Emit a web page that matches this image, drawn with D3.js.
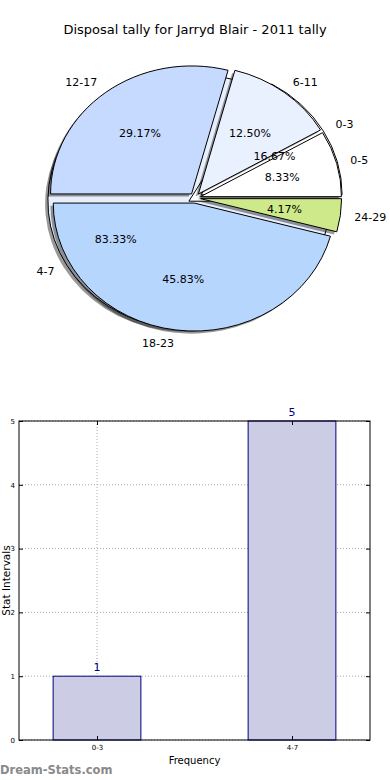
<!DOCTYPE html>
<html><head><meta charset="utf-8">
<script src="https://cdn.jsdelivr.net/npm/d3@7"></script>
<style>body{margin:0;background:#fff} text{font-family:"DejaVu Sans",sans-serif}</style>
</head><body><svg id="c" width="390" height="780"></svg>
<script>
const title = "Disposal tally for Jarryd Blair - 2011 tally";
const innerLabels = ["0-3", "4-7"];
const innerValues = [1, 5];
const innerColors = ["#ffffff", "#e8effc"];
const outerLabels = ["0-5", "6-11", "12-17", "18-23", "24-29"];
const outerValues = [2, 3, 7, 11, 1];
const outerColors = ["#ffffff", "#eaf1fe", "#c6d9fe", "#b7d6fe", "#cde98a"];
const barCategories = ["0-3", "4-7"];
const barValues = [1, 5];
const yTicks = [0, 1, 2, 3, 4, 5];

const svg = d3.select("#c");
svg.append("text").attr("x", 195).attr("y", 34).attr("text-anchor", "middle")
  .attr("font-size", 13).attr("fill", "#000").text(title);

// ---------- pie ----------
const cx = 195, cy = 198, rx = 141, ry = 128, R = 100;
const pieGen = d3.pie().sort(null).startAngle(Math.PI / 2).endAngle(Math.PI / 2 - 2 * Math.PI);
const arc = d3.arc().innerRadius(0).outerRadius(R);
const pieG = svg.append("g");
const textG = svg.append("g");
const pct = d3.format(".2f");

function drawPie(labels, values, colors, explode) {
  const total = d3.sum(values);
  const arcs = pieGen(values);
  const offs = arcs.map(a => {
    const m = (a.startAngle + a.endAngle) / 2;
    return { m, dx: explode * rx * Math.sin(m), dy: -explode * ry * Math.cos(m) };
  });
  arcs.forEach((a, i) => {
    const o = offs[i];
    pieG.append("path").attr("d", arc(a))
      .attr("transform", `translate(${cx + o.dx - 2.8},${cy + o.dy + 2.6}) scale(${rx / R},${ry / R})`)
      .attr("fill", "#000").attr("fill-opacity", 0.4).attr("stroke", "none");
    pieG.append("path").attr("d", arc(a))
      .attr("transform", `translate(${cx + o.dx},${cy + o.dy}) scale(${rx / R},${ry / R})`)
      .attr("fill", colors[i]).attr("stroke", "#000").attr("stroke-width", 1)
      .attr("vector-effect", "non-scaling-stroke").attr("stroke-linejoin", "round");
  });
  arcs.forEach((a, i) => {
    const o = offs[i];
    const sx = Math.sin(o.m), sy = -Math.cos(o.m);
    const lx = cx + o.dx + 1.1 * rx * sx, ly = cy + o.dy + 1.1 * ry * sy;
    textG.append("text").attr("x", lx).attr("y", ly).attr("dy", "0.35em")
      .attr("text-anchor", sx >= 0 ? "start" : "end").attr("font-size", 11).text(labels[i]);
    const px = cx + o.dx + 0.6 * rx * sx, py = cy + o.dy + 0.6 * ry * sy;
    textG.append("text").attr("x", px).attr("y", py).attr("dy", "0.35em")
      .attr("text-anchor", "middle").attr("font-size", 11).text(pct(values[i] / total * 100) + "%");
  });
}
drawPie(innerLabels, innerValues, innerColors, 0.05);
drawPie(outerLabels, outerValues, outerColors, 0.04);

// ---------- bars ----------
const L = 19, Rr = 370, T = 421, B = 740;
const x = d3.scaleLinear().domain([-0.4, 1.4]).range([L, Rr]);
const y = d3.scaleLinear().domain([0, 5]).range([B, T]);
const bw = 0.45;
const g = svg.append("g");

g.selectAll(".gy").data(yTicks).join("line")
  .attr("x1", L).attr("x2", Rr).attr("y1", d => y(d)).attr("y2", d => y(d))
  .attr("stroke", "#aaa").attr("stroke-dasharray", "1,2");
g.selectAll(".gx").data(barCategories).join("line")
  .attr("x1", (d, i) => x(i)).attr("x2", (d, i) => x(i)).attr("y1", T).attr("y2", B)
  .attr("stroke", "#aaa").attr("stroke-dasharray", "1,2");

g.selectAll(".bar").data(barValues).join("rect")
  .attr("x", (d, i) => x(i - bw / 2)).attr("width", (d, i) => x(i + bw / 2) - x(i - bw / 2))
  .attr("y", d => y(d)).attr("height", d => y(0) - y(d))
  .attr("fill", "#ccccE5").attr("stroke", "#000080").attr("stroke-width", 1);
g.selectAll(".val").data(barValues).join("text")
  .attr("x", (d, i) => x(i)).attr("y", d => y(d) - 5).attr("text-anchor", "middle")
  .attr("font-size", 11).attr("fill", "#000080").text(d => d);

const yAxL = d3.axisLeft(y).tickValues(yTicks).tickFormat(d3.format("d")).tickSizeInner(-4).tickSizeOuter(0).tickPadding(4);
const yAxR = d3.axisRight(y).tickValues(yTicks).tickSizeInner(-4).tickSizeOuter(0).tickFormat("");
const xAxB = d3.axisBottom(x).tickValues([0, 1]).tickFormat(i => barCategories[i]).tickSizeInner(-4).tickSizeOuter(0).tickPadding(5);
const xAxT = d3.axisTop(x).tickValues([0, 1]).tickFormat("").tickSizeInner(-4).tickSizeOuter(0);
function style(sel) {
  sel.select(".domain").remove();
  sel.selectAll("line").attr("stroke", "#000");
  sel.selectAll("text").attr("font-size", 7).attr("font-family", "DejaVu Sans").attr("fill", "#000");
}
svg.append("g").attr("transform", `translate(${L},0)`).call(yAxL).call(style);
svg.append("g").attr("transform", `translate(${Rr},0)`).call(yAxR).call(style);
svg.append("g").attr("transform", `translate(0,${B})`).call(xAxB).call(style);
svg.append("g").attr("transform", `translate(0,${T})`).call(xAxT).call(style);
svg.append("rect").attr("x", L).attr("y", T).attr("width", Rr - L).attr("height", B - T)
  .attr("fill", "none").attr("stroke", "#000").attr("stroke-width", 1);

svg.append("text").attr("x", (L + Rr) / 2).attr("y", 764).attr("text-anchor", "middle")
  .attr("font-size", 10).text("Frequency");
svg.append("text").attr("transform", `translate(10,${(T + B) / 2}) rotate(-90)`)
  .attr("text-anchor", "middle").attr("font-size", 10.5).text("Stat Intervals");
svg.append("text").attr("x", 0).attr("y", 774).attr("font-size", 11.5).attr("font-weight", 600)
  .attr("fill", "#8a8a8a").text("Dream-Stats.com");
</script></body></html>
